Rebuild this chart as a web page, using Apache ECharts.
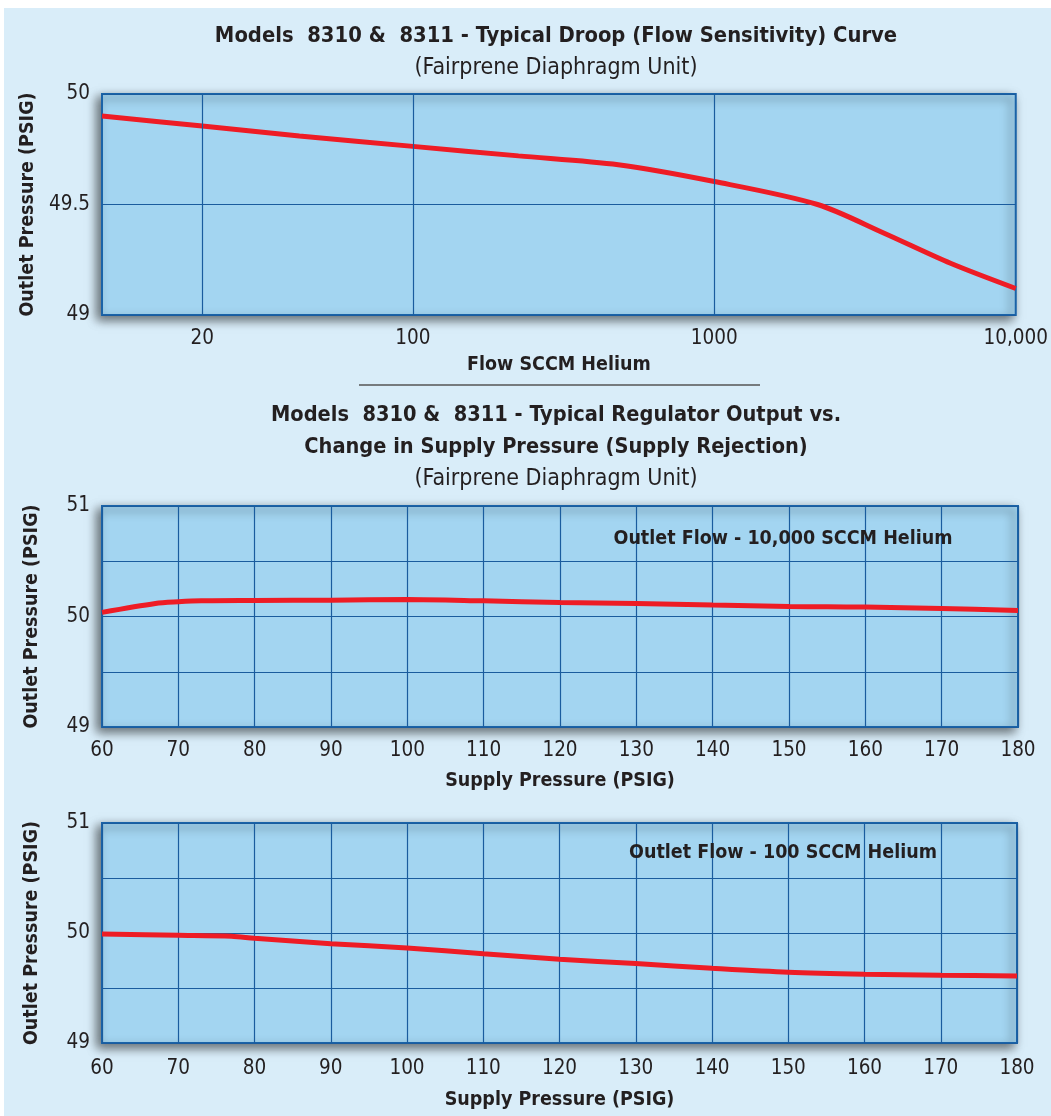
<!DOCTYPE html>
<html>
<head>
<meta charset="utf-8">
<script src="https://cdn.jsdelivr.net/npm/echarts@6/dist/echarts.min.js"></script>
<style>
html,body{margin:0;padding:0;background:#ffffff;}
#chart{width:1051px;height:1116px;}
</style>
</head>
<body>
<div id="chart"></div>
<script>
// ---- Data ----
const droopFlow = [9.3, 20, 42, 100, 224, 480, 1000, 2200, 3660, 6076, 10000];
const droopPressure = [49.90, 49.855, 49.81, 49.763, 49.72, 49.68, 49.604, 49.50, 49.37, 49.234, 49.12];
const droopTicks = [20, 100, 1000, 10000];

const supplyA = [60, 67, 70, 73, 80, 90, 100, 110, 120, 130, 140, 150, 155, 160, 170, 180];
const outlet10000 = [50.037, 50.118, 50.133, 50.142, 50.145, 50.148, 50.154, 50.142, 50.127, 50.118, 50.103, 50.091, 50.088, 50.085, 50.073, 50.055];

const supplyB = [60, 70, 77, 80, 90, 100, 110, 120, 130, 140, 150, 160, 170, 180];
const outlet100 = [49.99, 49.979, 49.97, 49.952, 49.903, 49.864, 49.812, 49.762, 49.722, 49.68, 49.644, 49.626, 49.617, 49.61];

// ---- Styles ----
const FONT = '"DejaVu Sans Condensed", "Liberation Sans Narrow", "Open Sans", sans-serif';
const TXT = '#231f20';
const GRIDC = '#1a5c9e';
const RED = '#ee1c25';

function zip(a, b) { return a.map((v, i) => [v, b[i]]); }

const gridBase = {
  show: true,
  backgroundColor: '#a3d5f1',
  borderColor: '#1a63a8',
  borderWidth: 2,
  shadowColor: 'rgba(0,0,0,0.55)',
  shadowBlur: 10,
  shadowOffsetX: -4,
  shadowOffsetY: 4,
  containLabel: false
};

const axisLabelStyle = { color: TXT, fontFamily: FONT, fontSize: 20.5 };
const axisNameStyle = { color: TXT, fontFamily: FONT, fontSize: 19.5, fontWeight: 'bold' };

function supplyX(gi, gap, margin) {
  return {
    type: 'value', gridIndex: gi, min: 60, max: 180, interval: 10,
    axisLine: { show: false }, axisTick: { show: false },
    axisLabel: Object.assign({ margin: margin }, axisLabelStyle),
    splitLine: { show: true, lineStyle: { color: GRIDC, width: 1.2 } },
    name: 'Supply Pressure (PSIG)', nameLocation: 'middle', nameGap: gap,
    nameTextStyle: axisNameStyle
  };
}
function supplyY(gi) {
  return {
    type: 'value', gridIndex: gi, min: 49, max: 51, interval: 0.5,
    axisLine: { show: false }, axisTick: { show: false },
    axisLabel: Object.assign({ margin: 12, padding: [8, 0, 0, 0], formatter: v => (Number.isInteger(v) ? String(v) : '') }, axisLabelStyle),
    splitLine: { show: true, lineStyle: { color: GRIDC, width: 1.2 } },
    name: 'Outlet Pressure (PSIG)', nameLocation: 'middle', nameGap: 60,
    nameTextStyle: axisNameStyle
  };
}

const chart = echarts.init(document.getElementById('chart'), null, { renderer: 'canvas' });

const option = {
  backgroundColor: 'transparent',
  animation: false,
  grid: [
    Object.assign({ left: 102, top: 94, width: 916, height: 221 }, gridBase),
    Object.assign({ left: 102, top: 506, width: 916, height: 221 }, gridBase),
    Object.assign({ left: 102, top: 823, width: 915, height: 220 }, gridBase)
  ],
  xAxis: [
    {
      type: 'log', gridIndex: 0, min: 9.3, max: 10000, logBase: 10,
      axisLine: { show: false }, axisTick: { show: false },
      axisLabel: Object.assign({
        margin: 13, customValues: droopTicks,
        formatter: v => (Math.round(v) === 10000 ? '10,000' : String(Math.round(v)))
      }, axisLabelStyle),
      splitLine: { show: false },
      name: 'Flow SCCM Helium', nameLocation: 'middle', nameGap: 40,
      nameTextStyle: axisNameStyle
    },
    supplyX(1, 44, 13),
    supplyX(2, 47, 15)
  ],
  yAxis: [
    {
      type: 'value', gridIndex: 0, min: 49, max: 50, interval: 0.5,
      axisLine: { show: false }, axisTick: { show: false },
      axisLabel: Object.assign({ margin: 12, padding: [8, 0, 0, 0] }, axisLabelStyle),
      splitLine: { show: true, lineStyle: { color: GRIDC, width: 1.2 } },
      name: 'Outlet Pressure (PSIG)', nameLocation: 'middle', nameGap: 60,
      nameTextStyle: axisNameStyle
    },
    supplyY(1),
    supplyY(2)
  ],
  series: [
    {
      type: 'line', xAxisIndex: 0, yAxisIndex: 0, data: [], z: 1,
      markLine: {
        silent: true, symbol: 'none', label: { show: false },
        lineStyle: { color: GRIDC, width: 1.2, type: 'solid' },
        data: droopTicks.slice(0, 3).map(v => ({ xAxis: v }))
      }
    },
    {
      type: 'line', xAxisIndex: 0, yAxisIndex: 0, z: 3,
      data: zip(droopFlow, droopPressure), smooth: 0.3, showSymbol: false,
      lineStyle: { color: RED, width: 5 }
    },
    {
      type: 'line', xAxisIndex: 1, yAxisIndex: 1, z: 3,
      data: zip(supplyA, outlet10000), smooth: 0.3, showSymbol: false,
      lineStyle: { color: RED, width: 5 }
    },
    {
      type: 'line', xAxisIndex: 2, yAxisIndex: 2, z: 3,
      data: zip(supplyB, outlet100), smooth: 0.3, showSymbol: false,
      lineStyle: { color: RED, width: 5 }
    }
  ],
  graphic: [
    { type: 'rect', z: -10, silent: true, shape: { x: 4, y: 8, width: 1051, height: 1116 }, style: { fill: '#d9edf9' } },
    { type: 'text', x: 556, y: 36, style: { text: 'Models  8310 &  8311 - Typical Droop (Flow Sensitivity) Curve', textAlign: 'center', textVerticalAlign: 'middle', fontFamily: FONT, fontSize: 21.8, fontWeight: 'bold', fill: TXT } },
    { type: 'text', x: 556, y: 68, style: { text: '(Fairprene Diaphragm Unit)', textAlign: 'center', textVerticalAlign: 'middle', fontFamily: FONT, fontSize: 23, fill: TXT } },
    { type: 'line', shape: { x1: 359, y1: 385, x2: 760, y2: 385 }, style: { stroke: '#555555', lineWidth: 1.5 } },
    { type: 'text', x: 556, y: 415, style: { text: 'Models  8310 &  8311 - Typical Regulator Output vs.', textAlign: 'center', textVerticalAlign: 'middle', fontFamily: FONT, fontSize: 21.6, fontWeight: 'bold', fill: TXT } },
    { type: 'text', x: 556, y: 447, style: { text: 'Change in Supply Pressure (Supply Rejection)', textAlign: 'center', textVerticalAlign: 'middle', fontFamily: FONT, fontSize: 21.6, fontWeight: 'bold', fill: TXT } },
    { type: 'text', x: 556, y: 479, style: { text: '(Fairprene Diaphragm Unit)', textAlign: 'center', textVerticalAlign: 'middle', fontFamily: FONT, fontSize: 23, fill: TXT } },
    { type: 'text', x: 783, y: 539, z: 10, style: { text: 'Outlet Flow - 10,000 SCCM Helium', textAlign: 'center', textVerticalAlign: 'middle', fontFamily: FONT, fontSize: 19.5, fontWeight: 'bold', fill: TXT } },
    { type: 'text', x: 783, y: 853, z: 10, style: { text: 'Outlet Flow - 100 SCCM Helium', textAlign: 'center', textVerticalAlign: 'middle', fontFamily: FONT, fontSize: 19.5, fontWeight: 'bold', fill: TXT } }
  ]
};

chart.setOption(option);
</script>
</body>
</html>
